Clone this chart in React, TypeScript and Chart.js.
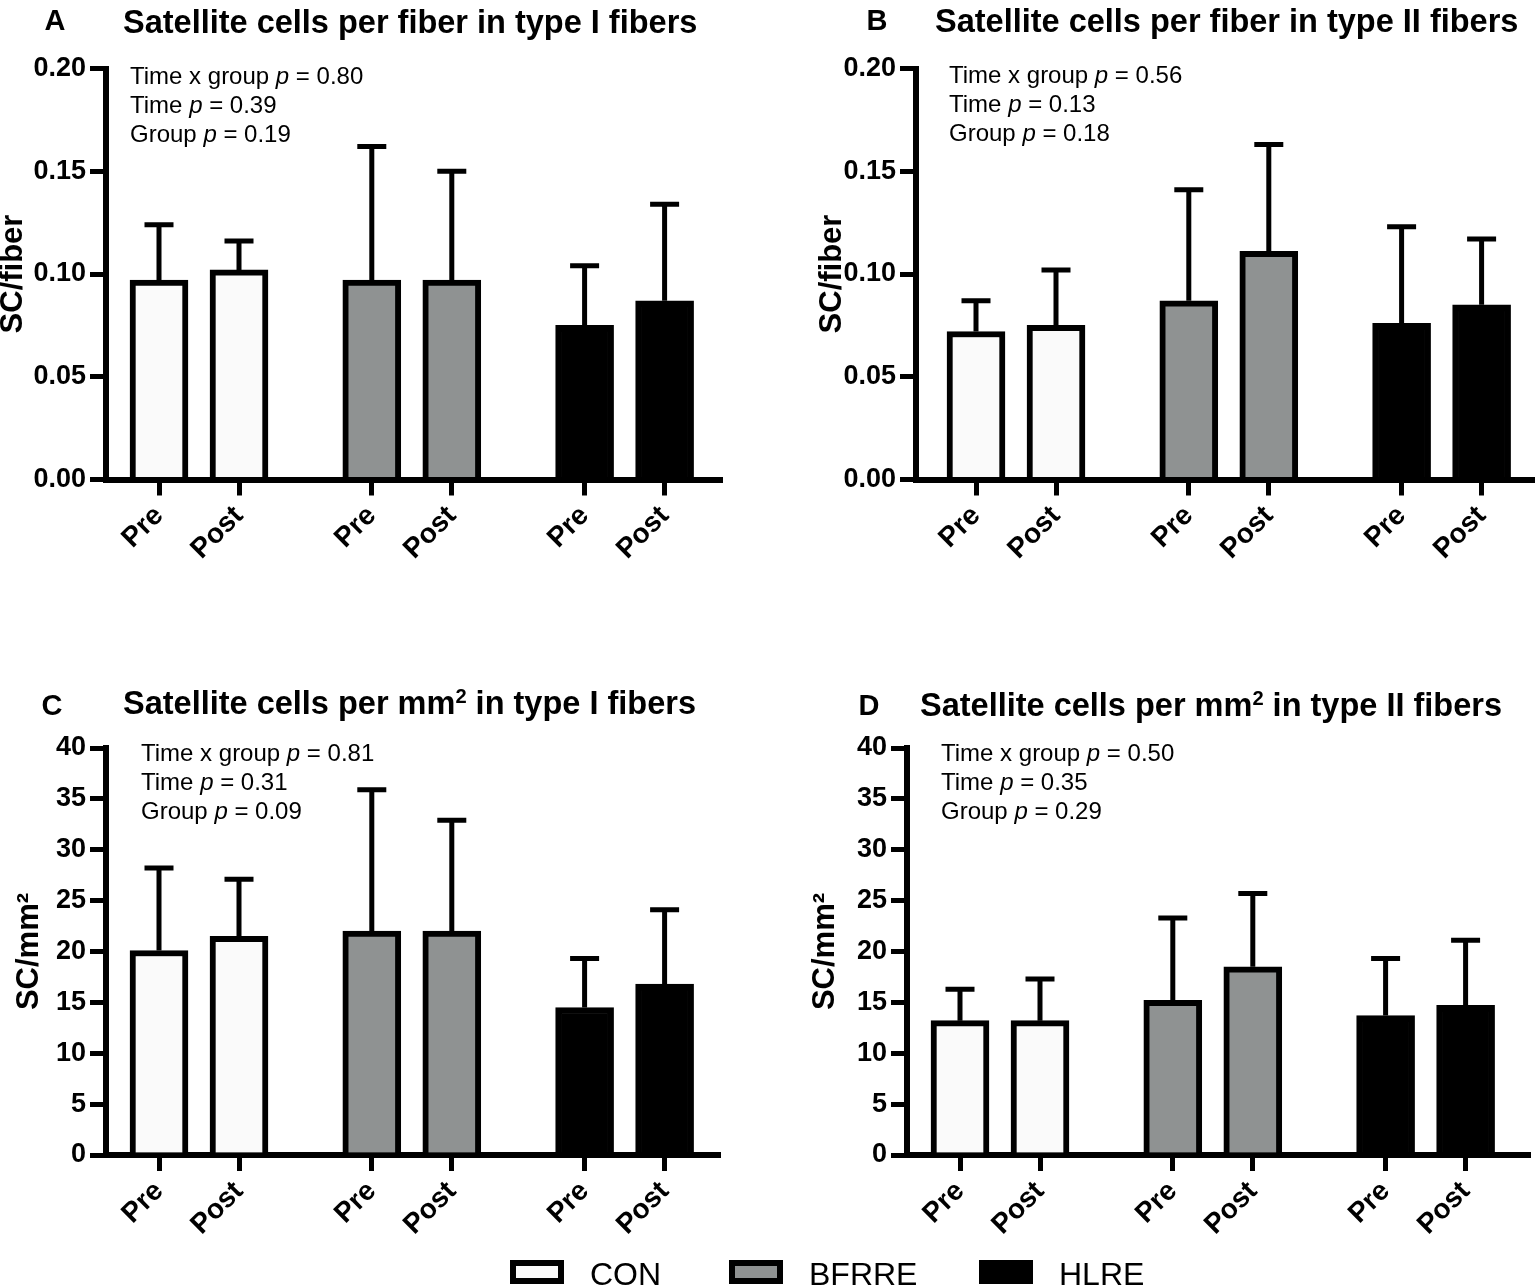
import React, { useEffect, useLayoutEffect, useRef } from 'react';
import { Chart, registerables } from 'chart.js';

Chart.register(...registerables);

const FONT = "'Liberation Sans', Arial, Helvetica, sans-serif";

const groups = ['CON', 'BFRRE', 'HLRE'];
const timePoints = ['Pre', 'Post'];
const statNames = ['Time x group', 'Time', 'Group'];

const fiberTicks = [0, 0.05, 0.1, 0.15, 0.2];
const areaTicks = [0, 5, 10, 15, 20, 25, 30, 35, 40];

// A - SC per fiber, type I (order: CON pre/post, BFRRE pre/post, HLRE pre/post)
const fiberTypeIMean = [0.097, 0.102, 0.097, 0.097, 0.075, 0.087];
const fiberTypeISD = [0.027, 0.014, 0.065, 0.053, 0.029, 0.047];
const fiberTypeIP = ['0.80', '0.39', '0.19'];

// B - SC per fiber, type II
const fiberTypeIIMean = [0.072, 0.075, 0.087, 0.111, 0.076, 0.085];
const fiberTypeIISD = [0.015, 0.027, 0.054, 0.052, 0.047, 0.032];
const fiberTypeIIP = ['0.56', '0.13', '0.18'];

// C - SC per mm2, type I
const areaTypeIMean = [20.1, 21.5, 22.0, 22.0, 14.5, 16.8];
const areaTypeISD = [8.1, 5.6, 13.9, 10.9, 4.8, 7.3];
const areaTypeIP = ['0.81', '0.31', '0.09'];

// D - SC per mm2, type II
const areaTypeIIMean = [13.2, 13.2, 15.2, 18.5, 13.7, 14.7];
const areaTypeIISD = [3.1, 4.1, 8.1, 7.2, 5.6, 6.4];
const areaTypeIIP = ['0.50', '0.35', '0.29'];

// styling / layout
const groupFill = ['#fafafa', '#8f9292', '#000000'];
const GROUP_STEP = 2.66; // distance between groups, in "bar steps"
const BAR_STEP = 80; // px between Pre and Post

type Layout = {
  left: number; top: number; w: number; h: number;
  axisX: number; axisRight: number; plotTop: number; plotBottom: number; firstBar: number;
};

type PanelProps = {
  letter: string;
  title: React.ReactNode;
  yTitle: string;
  means: number[];
  sds: number[];
  yTicks: number[];
  decimals: number;
  pValues: string[];
  L: Layout;
  letterPos: [number, number];
  titlePos: [number, number];
  statsPos: [number, number];
};

function BarPanel({ means, sds, yTicks, decimals, yTitle, L }: PanelProps) {
  const ref = useRef<HTMLCanvasElement>(null);

  useEffect(() => {
    const canvas = ref.current;
    if (!canvas) return;

    const xs = groups.flatMap((_, g) => timePoints.map((_, t) => g * GROUP_STEP + t));
    const fills = groups.flatMap((_, g) => timePoints.map(() => groupFill[g]));
    const xMin = (L.axisX - L.firstBar) / BAR_STEP;
    const xMax = (L.axisRight - L.firstBar) / BAR_STEP;
    const yAxisWidth = L.axisX - L.left;
    const xAxisHeight = L.top + L.h - L.plotBottom;

    const errorBars = {
      id: 'errorBars',
      afterDatasetsDraw(chart: any) {
        const meta = chart.getDatasetMeta(0);
        const y = chart.scales.y;
        const ctx = chart.ctx;
        ctx.save();
        ctx.strokeStyle = '#000';
        ctx.lineWidth = 5;
        meta.data.forEach((bar: any, i: number) => {
          const top = y.getPixelForValue(means[i] + sds[i]);
          ctx.beginPath();
          ctx.moveTo(bar.x, bar.y);
          ctx.lineTo(bar.x, top);
          ctx.moveTo(bar.x - 14.5, top);
          ctx.lineTo(bar.x + 14.5, top);
          ctx.stroke();
        });
        ctx.restore();
      },
    };

    const axisGrid = {
      display: true,
      offset: false,
      drawOnChartArea: false,
      drawTicks: true,
      tickLength: 16,
      tickWidth: 5,
      tickColor: '#000',
      color: '#000',
      lineWidth: 5,
    };

    const chart = new Chart(canvas, {
      type: 'bar',
      data: {
        datasets: [
          {
            data: means.map((m, i) => ({ x: xs[i], y: m })),
            backgroundColor: fills,
            borderColor: '#000',
            borderWidth: 6,
            barThickness: 58,
          },
        ],
      },
      options: {
        responsive: false,
        animation: false,
        layout: {
          padding: {
            left: 0,
            top: L.plotTop - L.top,
            right: L.left + L.w - L.axisRight,
            bottom: 0,
          },
        },
        plugins: {
          legend: { display: false },
          tooltip: { enabled: false },
        },
        scales: {
          x: {
            type: 'linear',
            min: xMin,
            max: xMax,
            offset: false,
            afterBuildTicks: (s: any) => {
              s.ticks = xs.map((v) => ({ value: v }));
            },
            afterFit: (s: any) => {
              s.height = xAxisHeight;
            },
            border: { display: true, width: 6, color: '#000' },
            grid: axisGrid,
            ticks: {
              autoSkip: false,
              minRotation: 45,
              maxRotation: 45,
              padding: 4,
              color: '#000',
              font: { family: FONT, size: 28, weight: 'bold' },
              callback: (_v: any, i: number) => timePoints[i % timePoints.length],
            },
          },
          y: {
            type: 'linear',
            min: yTicks[0],
            max: yTicks[yTicks.length - 1],
            afterBuildTicks: (s: any) => {
              s.ticks = yTicks.map((v) => ({ value: v }));
            },
            afterFit: (s: any) => {
              s.width = yAxisWidth;
            },
            border: { display: true, width: 6, color: '#000' },
            grid: axisGrid,
            ticks: {
              padding: 4,
              color: '#000',
              font: { family: FONT, size: 27, weight: 'bold' },
              callback: (v: any) => Number(v).toFixed(decimals),
            },
            title: {
              display: true,
              text: yTitle,
              color: '#000',
              font: { family: FONT, size: 31, weight: 'bold', lineHeight: 1 },
              padding: { top: 3, bottom: 0 },
            },
          },
        },
      },
      plugins: [errorBars],
    } as any);

    return () => {
      chart.destroy();
    };
  }, []);

  return (
    <canvas
      ref={ref}
      width={L.w}
      height={L.h}
      style={{ position: 'absolute', left: L.left, top: L.top, width: L.w, height: L.h, display: 'block' }}
    />
  );
}

function Panel(props: PanelProps) {
  const { letter, title, pValues, letterPos, titlePos, statsPos } = props;
  return (
    <>
      <BarPanel {...props} />
      <div
        style={{
          position: 'absolute', left: letterPos[0], top: letterPos[1],
          font: `bold 29px/1 ${FONT}`, whiteSpace: 'nowrap',
        }}
      >
        {letter}
      </div>
      <div
        style={{
          position: 'absolute', left: titlePos[0], top: titlePos[1],
          font: `bold 32.5px/1 ${FONT}`, whiteSpace: 'nowrap',
        }}
      >
        {title}
      </div>
      <div
        style={{
          position: 'absolute', left: statsPos[0], top: statsPos[1],
          font: `24px/29px ${FONT}`, whiteSpace: 'nowrap',
        }}
      >
        {statNames.map((s, i) => (
          <div key={s}>
            {s} <i>p</i> = {pValues[i]}
          </div>
        ))}
      </div>
    </>
  );
}

const sup2 = (
  <sup style={{ fontSize: '0.62em', position: 'relative', top: '-0.5em', verticalAlign: 'baseline', lineHeight: 0 }}>2</sup>
);

const legendPos = [510, 729, 979];

export default function App() {
  useLayoutEffect(() => {
    document.body.style.margin = '0';
  }, []);

  return (
    <div
      style={{
        position: 'relative', width: 1535, height: 1287, overflow: 'hidden',
        background: '#fff', color: '#000', fontFamily: FONT,
      }}
    >
      <Panel
        letter="A"
        title="Satellite cells per fiber in type I fibers"
        yTitle="SC/fiber"
        means={fiberTypeIMean}
        sds={fiberTypeISD}
        yTicks={fiberTicks}
        decimals={2}
        pValues={fiberTypeIP}
        L={{ left: -5, top: 30, w: 745, h: 570, axisX: 106, axisRight: 720, plotTop: 68.5, plotBottom: 479.5, firstBar: 159 }}
        letterPos={[44.5, 6]}
        titlePos={[123, 5.5]}
        statsPos={[130, 60.5]}
      />
      <Panel
        letter="B"
        title="Satellite cells per fiber in type II fibers"
        yTitle="SC/fiber"
        means={fiberTypeIIMean}
        sds={fiberTypeIISD}
        yTicks={fiberTicks}
        decimals={2}
        pValues={fiberTypeIIP}
        L={{ left: 814, top: 30, w: 721, h: 570, axisX: 916, axisRight: 1533, plotTop: 68.5, plotBottom: 479.5, firstBar: 976 }}
        letterPos={[866.5, 6]}
        titlePos={[935, 4.5]}
        statsPos={[949, 59.5]}
      />
      <Panel
        letter="C"
        title={<>Satellite cells per mm{sup2} in type I fibers</>}
        yTitle="SC/mm²"
        means={areaTypeIMean}
        sds={areaTypeISD}
        yTicks={areaTicks}
        decimals={0}
        pValues={areaTypeIP}
        L={{ left: 11, top: 715, w: 729, h: 572, axisX: 106, axisRight: 718, plotTop: 748, plotBottom: 1155, firstBar: 159 }}
        letterPos={[41.5, 691]}
        titlePos={[123, 686.5]}
        statsPos={[141, 737.5]}
      />
      <Panel
        letter="D"
        title={<>Satellite cells per mm{sup2} in type II fibers</>}
        yTitle="SC/mm²"
        means={areaTypeIIMean}
        sds={areaTypeIISD}
        yTicks={areaTicks}
        decimals={0}
        pValues={areaTypeIIP}
        L={{ left: 807, top: 715, w: 728, h: 572, axisX: 907, axisRight: 1528, plotTop: 748, plotBottom: 1155, firstBar: 960 }}
        letterPos={[858.5, 691]}
        titlePos={[920, 688.5]}
        statsPos={[941, 737.5]}
      />
      {groups.map((g, i) => (
        <React.Fragment key={g}>
          <div
            style={{
              position: 'absolute', left: legendPos[i], top: 1260, width: 54, height: 24,
              boxSizing: 'border-box', border: '6px solid #000', background: groupFill[i],
            }}
          />
          <div
            style={{
              position: 'absolute', left: legendPos[i] + 80, top: 1257.5,
              font: `32px/1 ${FONT}`, whiteSpace: 'nowrap',
            }}
          >
            {g}
          </div>
        </React.Fragment>
      ))}
    </div>
  );
}
